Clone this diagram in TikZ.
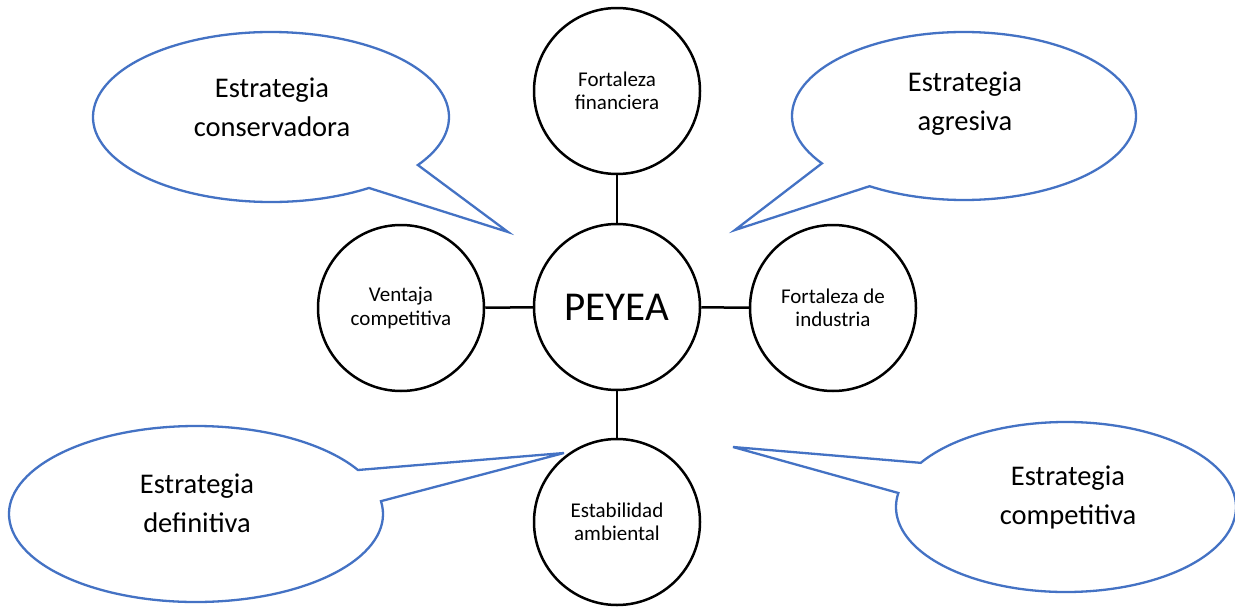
\documentclass[tikz,border=0pt]{standalone}
\usepackage{fontspec}
\setmainfont{Carlito}
\definecolor{callblue}{HTML}{4472C4}
\begin{document}
\begin{tikzpicture}[x=1pt,y=-1pt,
  factor/.style={circle,draw=black,line width=2.5pt,minimum size=166pt,inner sep=0pt,align=center,font=\fontsize{21}{23.5}\selectfont},
  link/.style={draw=black,line width=2.5pt},
  bubble/.style={draw=callblue,line width=2.3pt,line join=miter},
  bubbletext/.style={align=center,font=\fontsize{28.5}{39}\selectfont}]
\useasboundingbox (0,0) rectangle (1235,608);
\fill[white] (0,0) rectangle (1235,608);

% circles
\node[factor] (peyea) at (617,307) {\fontsize{41}{45}\selectfont PEYEA};
\node[factor] (top) at (617,91) {Fortaleza\\financiera};
\node[factor] (bottom) at (617,522) {Estabilidad\\ambiental};
\node[factor] (left) at (401,308) {Ventaja\\competitiva};
\node[factor] (right) at (833,308) {Fortaleza de\\industria};

\draw[link] (peyea) -- (top);
\draw[link] (peyea) -- (bottom);
\draw[link] (peyea) -- (left);
\draw[link] (peyea) -- (right);

% callout tips
\coordinate (tipTL) at (508,232);
\coordinate (tipTR) at (735,230);
\coordinate (tipBL) at (564,453);
\coordinate (tipBR) at (733,447);

% top-left callout
\draw[bubble] ([shift={(56.6:178 and 85)}]271,117)
  arc[start angle=56.6,end angle=394.4,x radius=178,y radius=85] -- (tipTL) -- cycle;
% top-right callout
\draw[bubble] ([shift={(145.7:172 and 84)}]964,116)
  arc[start angle=145.7,end angle=483.3,x radius=172,y radius=84] -- (tipTR) -- cycle;
% bottom-left callout
\draw[bubble] ([shift={(-8.4:187 and 88)}]196,514)
  arc[start angle=-8.4,end angle=330,x radius=187,y radius=88] -- (tipBL) -- cycle;
% bottom-right callout
\draw[bubble] ([shift={(211.3:170 and 85)}]1066,507)
  arc[start angle=211.3,end angle=549.5,x radius=170,y radius=85] -- (tipBR) -- cycle;

\node[bubbletext] (tTL) at (272,107) {Estrategia\\conservadora};
\node[bubbletext] (tTR) at (965,104) {Estrategia\\agresiva};
\node[bubbletext] (tBL) at (197,503) {Estrategia\\definitiva};
\node[bubbletext] (tBR) at (1068,497) {Estrategia\\competitiva};
\end{tikzpicture}
\end{document}
